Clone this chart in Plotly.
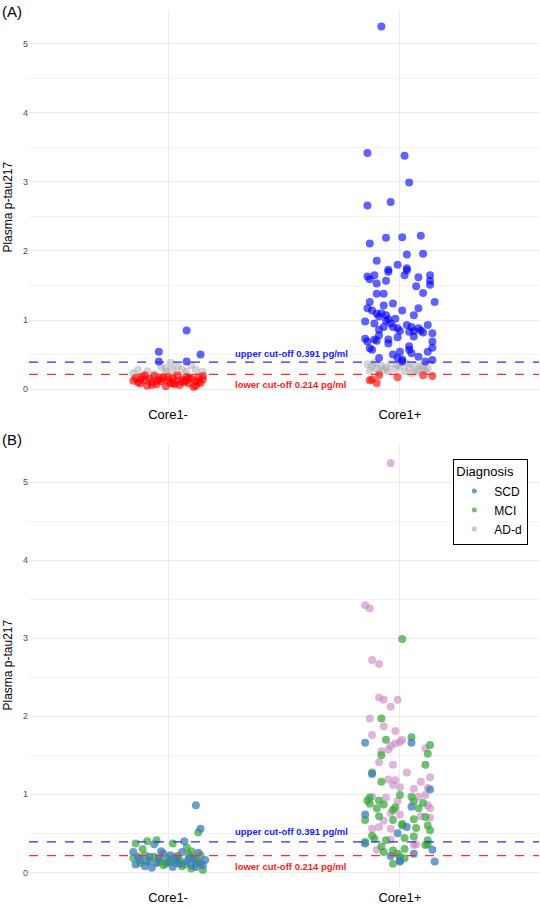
import plotly.graph_objects as go

# ---------------- DATA ----------------
groups = ["Core1-", "Core1+"]
upper_cut = 0.391
lower_cut = 0.214
y_ticks = [0, 1, 2, 3, 4, 5]

# Panel A: Core1- (jitter offset, value)
a_neg_jit = [0.08, -0.04, 0.14, -0.04, 0.08,
             -0.13, -0.09, -0.03, 0.01, -0.01, 0.06, 0.10, 0.12, 0.15, -0.01, 0.02, -0.15, 0.08, -0.06, 0.04,
             -0.15, -0.14, -0.12, -0.11, -0.10, -0.09, -0.08, -0.07, -0.06, -0.05, -0.04, -0.03, -0.02, -0.01,
             0.00, 0.01, 0.02, 0.03, 0.04, 0.05, 0.06, 0.07, 0.08, 0.09, 0.10, 0.11, 0.12, 0.13, 0.14, 0.15,
             -0.13, -0.10, -0.07, -0.03, 0.00, 0.03, 0.06, 0.09, 0.12, 0.15, -0.12, -0.05, 0.02, 0.08, 0.13]
a_neg_val = [0.85, 0.54, 0.50, 0.40, 0.40,
             0.28, 0.26, 0.32, 0.38, 0.25, 0.28, 0.35, 0.28, 0.25, 0.30, 0.28, 0.23, 0.25, 0.22, 0.33,
             0.12, 0.16, 0.08, 0.18, 0.13, 0.05, 0.15, 0.10, 0.19, 0.07, 0.14, 0.11, 0.17, 0.04,
             0.13, 0.09, 0.16, 0.12, 0.20, 0.06, 0.14, 0.10, 0.18, 0.08, 0.15, 0.03, 0.12, 0.17, 0.09, 0.14,
             0.10, 0.20, 0.06, 0.15, 0.18, 0.07, 0.11, 0.16, 0.05, 0.19, 0.14, 0.12, 0.08, 0.13, 0.10]

# Panel A: Core1+ (jitter offset, value)
a_pos_jit = [-0.08, -0.14, 0.02, 0.04, -0.04, -0.14, 0.09, 0.01, -0.06, -0.13,
             -0.10, 0.03, 0.10, -0.01, -0.05, 0.03, 0.03, -0.14, -0.11, -0.05,
             0.02, 0.08, 0.13, -0.06, -0.10, 0.13, 0.13, 0.07, -0.10, -0.07,
             0.10, 0.15, -0.13, -0.03, -0.07, -0.14, -0.12, 0.01, 0.08, -0.10,
             -0.08, -0.09, -0.06, -0.05, -0.06, -0.04, 0.06, -0.15, -0.11, -0.03,
             -0.01, 0.00, 0.03, 0.04, 0.05, 0.06, 0.08, 0.09, 0.10, 0.14,
             -0.07, -0.09, -0.09, -0.15, -0.14, -0.11, -0.10, -0.05, -0.05, -0.01,
             0.06, 0.14, 0.14, -0.13, -0.12, 0.00, 0.04, 0.05, 0.12, 0.08,
             0.01, 0.01, -0.01, 0.11, 0.14, -0.13, -0.02, 0.04, -0.03, -0.09, 0.12,
             -0.14, -0.12, -0.10, -0.08, -0.13, -0.06, -0.04, -0.02, 0.00, 0.02,
             0.04, 0.06, 0.08, 0.10, 0.12, -0.09, -0.05, 0.07, -0.11, 0.03,
             0.09, -0.07, 0.05, -0.01, 0.11,
             -0.13, -0.12, -0.10, -0.09, -0.01, 0.10, 0.14]
a_pos_val = [5.25, 3.42, 3.38, 2.99, 2.71, 2.66, 2.22, 2.20, 2.19, 2.11,
             1.86, 1.95, 1.96, 1.80, 1.73, 1.75, 1.72, 1.63, 1.65, 1.70,
             1.65, 1.62, 1.65, 1.57, 1.53, 1.57, 1.51, 1.49, 1.38, 1.38,
             1.39, 1.26, 1.26, 1.24, 1.21, 1.17, 1.14, 1.14, 1.17, 1.09,
             1.10, 1.05, 1.07, 1.01, 0.99, 0.95, 1.07, 0.98, 0.95, 0.90,
             0.88, 0.84, 0.93, 0.83, 0.90, 0.84, 0.88, 0.85, 0.82, 0.81,
             0.90, 0.86, 0.78, 0.73, 0.69, 0.72, 0.70, 0.72, 0.66, 0.75,
             0.76, 0.69, 0.60, 0.59, 0.57, 0.54, 0.57, 0.52, 0.54, 0.47,
             0.43, 0.40, 0.45, 0.40, 0.42, 1.59, 1.02, 0.62, 0.50, 0.45, 0.93,
             0.36, 0.33, 0.30, 0.34, 0.27, 0.31, 0.37, 0.29, 0.33, 0.26,
             0.31, 0.35, 0.28, 0.32, 0.30, 0.24, 0.26, 0.25, 0.38, 0.37,
             0.34, 0.28, 0.23, 0.35, 0.27,
             0.13, 0.14, 0.09, 0.20, 0.17, 0.20, 0.19]

# Panel B: Core1- (jitter, value, diagnosis)
b_neg_jit = [0.12, 0.14, 0.13,
             -0.14, -0.09, -0.05, 0.02, 0.08, 0.10, 0.15, 0.10, -0.15, -0.12, -0.08, -0.04, -0.01, 0.01, 0.03,
             0.05, 0.07, 0.11, 0.13, -0.10, -0.06, 0.00, 0.04, 0.09, -0.02, 0.06, -0.11, -0.03, 0.12, 0.14,
             -0.06, 0.07, -0.15, -0.03, 0.13, -0.07, -0.14, -0.12, -0.10, -0.08, -0.05, -0.02, 0.00, 0.02,
             0.03, 0.05, 0.06, 0.08, 0.10, 0.11, 0.12, 0.14, 0.16, -0.13, -0.04, 0.04, 0.09, -0.09, 0.01, 0.15]
b_neg_val = [0.86, 0.56, 0.51,
             0.37, 0.40, 0.41, 0.37, 0.32, 0.27, 0.03, 0.05, 0.18, 0.12, 0.15, 0.13, 0.11, 0.14, 0.12,
             0.16, 0.10, 0.19, 0.14, 0.22, 0.20, 0.18, 0.21, 0.23, 0.09, 0.08, 0.30, 0.15, 0.11, 0.22,
             0.36, 0.40, 0.26, 0.27, 0.25, 0.06, 0.10, 0.16, 0.08, 0.20, 0.12, 0.24, 0.13, 0.07,
             0.19, 0.11, 0.26, 0.14, 0.09, 0.17, 0.07, 0.12, 0.16, 0.20, 0.18, 0.15, 0.18, 0.14, 0.22, 0.09]
b_neg_dx = ["SCD", "SCD", "MCI"] + ["MCI"] * 30 + ["SCD"] * 30

# Panel B: Core1+ (jitter, value, diagnosis)
b_pos_jit = [-0.04, -0.15, -0.13, -0.12, -0.09, -0.09, -0.07, -0.04, -0.01, -0.13,
             -0.07, -0.02, -0.12, 0.01, 0.00, -0.02, -0.04, -0.05, 0.11, -0.08,
             -0.09, -0.03, 0.03, -0.05, -0.02, -0.03, 0.00, 0.13, 0.09, 0.06,
             0.12, 0.11, 0.08, -0.12, -0.06, 0.12, 0.13, -0.01, -0.04, 0.00,
             0.09, 0.13, -0.07, -0.09, -0.12, -0.04, -0.04, 0.07, -0.10, 0.06,
             0.01, -0.08, 0.05, -0.06, 0.13, 0.12, -0.08, 0.11, -0.12, -0.08,
             0.00, -0.13, -0.14, -0.09, 0.05, 0.06, 0.10, -0.13, -0.10, -0.07,
             -0.02, -0.03, 0.08, -0.09, -0.15, 0.11, 0.06, -0.03, 0.01, 0.01,
             0.07, 0.12, 0.13, -0.12, -0.11, 0.02, 0.06, -0.06, 0.12, 0.12,
             0.11, -0.15, -0.08, -0.07, -0.03, 0.02, -0.01, 0.00, 0.02, -0.03,
             -0.15, 0.05, -0.12, 0.13, 0.05, -0.15, 0.03, -0.01, -0.15, 0.14,
             -0.04, 0.06, 0.00, 0.15, 0.00]
b_pos_val = [5.24, 3.42, 3.38, 2.72, 2.67, 2.24, 2.21, 2.12, 2.21, 1.97,
             1.87, 1.81, 1.76, 1.70, 1.67, 1.65, 1.62, 1.57, 1.59, 1.55,
             1.41, 1.38, 1.28, 1.19, 1.18, 1.12, 1.09, 1.22, 1.16, 1.07,
             1.08, 0.99, 0.97, 0.97, 0.96, 0.86, 0.82, 0.91, 0.76, 0.74,
             0.72, 0.70, 0.66, 0.58, 0.56, 0.56, 0.42, 0.36, 0.29, 0.35,
             2.99, 1.97, 1.73, 1.70, 1.63, 1.52, 1.50, 1.38, 1.28, 1.16,
             0.99, 0.96, 0.92, 0.92, 0.97, 0.91, 0.89, 0.88, 0.82, 0.87,
             0.83, 0.80, 0.82, 0.72, 0.67, 0.71, 0.68, 0.67, 0.60, 0.62,
             0.57, 0.60, 0.54, 0.47, 0.43, 0.44, 0.46, 0.41, 0.41, 0.36,
             0.35, 0.39, 0.33, 0.26, 0.28, 0.30, 0.24, 0.20, 0.18, 0.11,
             1.66, 1.66, 1.26, 1.06, 0.84, 0.74, 0.58, 0.50, 0.37, 0.29,
             0.21, 0.24, 0.14, 0.14, 0.15]
b_pos_dx = ["AD-d"] * 50 + ["MCI"] * 50 + ["SCD"] * 15

diagnoses = ["SCD", "MCI", "AD-d"]

# ---------------- STYLE ----------------
A_COL = {"hi": "rgba(0,0,255,0.62)", "mid": "rgba(170,170,170,0.5)", "lo": "rgba(255,0,0,0.62)"}
B_COL = {"SCD": "rgba(60,125,185,0.75)", "MCI": "rgba(60,165,60,0.72)", "AD-d": "rgba(200,135,190,0.6)"}
MS = 8
FONT = "Liberation Sans, Arial"

fig = go.Figure()


def cls(v):
    if v > upper_cut:
        return "hi"
    if v < lower_cut:
        return "lo"
    return "mid"


# Panel A traces
for key in ["mid", "lo", "hi"]:
    xs, ys = [], []
    for gi, (jit, val) in enumerate([(a_neg_jit, a_neg_val), (a_pos_jit, a_pos_val)]):
        for j, v in zip(jit, val):
            if cls(v) == key:
                xs.append(gi + 1 + j)
                ys.append(v)
    fig.add_trace(go.Scatter(x=xs, y=ys, mode="markers", xaxis="x", yaxis="y",
                             marker=dict(size=MS, color=A_COL[key], line=dict(width=0)),
                             showlegend=False, hoverinfo="skip"))

# Panel B traces
for dx in ["AD-d", "MCI", "SCD"]:
    xs, ys = [], []
    for gi, (jit, val, dd) in enumerate([(b_neg_jit, b_neg_val, b_neg_dx), (b_pos_jit, b_pos_val, b_pos_dx)]):
        for j, v, d in zip(jit, val, dd):
            if d == dx:
                xs.append(gi + 1 + j)
                ys.append(v)
    fig.add_trace(go.Scatter(x=xs, y=ys, mode="markers", xaxis="x2", yaxis="y2", name=dx,
                             showlegend=False,
                             marker=dict(size=MS, color=B_COL[dx], line=dict(width=0)),
                             hoverinfo="skip"))

# legend entries (small keys)
for dx in diagnoses:
    fig.add_trace(go.Scatter(x=[None], y=[None], mode="markers", xaxis="x2", yaxis="y2", name=dx,
                             marker=dict(size=5, color=B_COL[dx]), showlegend=True, hoverinfo="skip"))

# cut-off lines and labels
for xa, ya, txt_up, txt_lo in [("x", "y", 0.52, 0.07), ("x2", "y2", 0.52, 0.08)]:
    fig.add_shape(type="line", xref=xa + " domain", yref=ya, x0=0, x1=1, y0=upper_cut, y1=upper_cut,
                  line=dict(color="#2a2aff", width=1.3, dash="dash"))
    fig.add_shape(type="line", xref=xa + " domain", yref=ya, x0=0, x1=1, y0=lower_cut, y1=lower_cut,
                  line=dict(color="#ff3030", width=1.3, dash="dash"))
    fig.add_annotation(x=1.28, y=txt_up, xref=xa, yref=ya, xanchor="left", yanchor="middle",
                       text="<b>upper cut-off %.3f pg/ml</b>" % upper_cut, showarrow=False,
                       font=dict(family=FONT, size=9.5, color="#1a1aff"))
    fig.add_annotation(x=1.28, y=txt_lo, xref=xa, yref=ya, xanchor="left", yanchor="middle",
                       text="<b>lower cut-off %.3f pg/ml</b>" % lower_cut, showarrow=False,
                       font=dict(family=FONT, size=9.5, color="#ff1a1a"))

# panel labels & y titles
fig.add_annotation(x=-0.057, y=0.9966, xref="paper", yref="paper", xanchor="left", yanchor="middle",
                   text="(A)", showarrow=False, font=dict(family=FONT, size=15, color="black"))
fig.add_annotation(x=-0.057, y=0.5097, xref="paper", yref="paper", xanchor="left", yanchor="middle",
                   text="(B)", showarrow=False, font=dict(family=FONT, size=15, color="black"))
for yc in [0.7742, 0.2532]:
    fig.add_annotation(x=-0.041, y=yc, xref="paper", yref="paper", xanchor="center", yanchor="middle",
                       text="Plasma p-tau217", textangle=-90, showarrow=False,
                       font=dict(family=FONT, size=12, color="black"))

grid = "#EBEBEB"
xcommon = dict(range=[0.4, 2.6], tickvals=[1, 2], ticktext=groups, showgrid=True, gridcolor=grid,
               gridwidth=1, zeroline=False, showline=False, ticks="",
               tickfont=dict(family=FONT, size=13, color="black"), fixedrange=True)
ycommon = dict(tickvals=y_ticks, showgrid=True, gridcolor=grid, gridwidth=1, zeroline=False,
               showline=False, ticks="", tickfont=dict(family=FONT, size=9, color="#4D4D4D"),
               minor=dict(dtick=0.5, showgrid=True, gridcolor="#F2F2F2", gridwidth=1),
               fixedrange=True)

fig.update_layout(
    width=540, height=909,
    margin=dict(l=29, r=1, t=9, b=21),
    plot_bgcolor="white", paper_bgcolor="white",
    xaxis=dict(domain=[0, 1], anchor="y", **xcommon),
    yaxis=dict(domain=[0.5495, 0.9989], anchor="x", range=[-0.23, 5.49], **ycommon),
    xaxis2=dict(domain=[0, 1], anchor="y2", **xcommon),
    yaxis2=dict(domain=[0, 0.5063], anchor="x2", range=[-0.2, 5.5], **ycommon),
    legend=dict(x=0.832, y=0.4885, xanchor="left", yanchor="top",
                title=dict(text="Diagnosis", font=dict(family=FONT, size=13, color="black")),
                font=dict(family=FONT, size=12, color="black"),
                bordercolor="black", borderwidth=1, bgcolor="white",
                itemsizing="trace", tracegroupgap=0, itemwidth=30),
    font=dict(family=FONT),
)

fig.write_html("out.html")
